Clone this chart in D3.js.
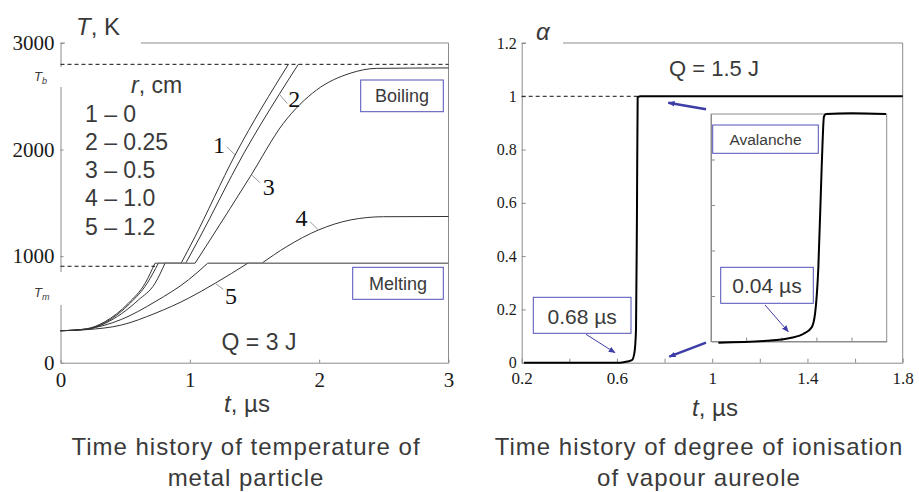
<!DOCTYPE html>
<html>
<head>
<meta charset="utf-8">
<script src="https://cdn.jsdelivr.net/npm/d3@7"></script>
<style>
  body { margin: 0; background: #fff; }
  svg { display: block; }
</style>
</head>
<body>
<div id="chart"></div>
<script>
// Left panel: temperature of the metal particle, t in µs, T in K
const T_X_TICKS = [0, 1, 2, 3];
const T_Y_TICKS = [0, 1000, 2000, 3000];
const T_BOIL = 2800;      // dashed T_b level
const T_MELT_LINE = 905;  // dashed T_m level
// each curve: pieces joined by straight plateaus
const CURVE_1 = [
  [[0, 300], [0.2, 318], [0.344, 385], [0.524, 557], [0.654, 745], [0.73, 933]],
  [[0.932, 933], [1.027, 1151], [1.35, 1949], [1.762, 2800]]
];
const CURVE_2 = [
  [[0, 300], [0.2, 315], [0.35, 380], [0.54, 560], [0.67, 745], [0.756, 933]],
  [[0.968, 933], [1.066, 1151], [1.41, 1949], [1.692, 2520], [1.839, 2800]]
];
const CURVE_3 = [
  [[0, 300], [0.2, 312], [0.344, 369], [0.602, 588], [0.731, 745], [0.808, 933]],
  [[1.04, 933], [1.156, 1151], [1.466, 1745], [1.723, 2246], [1.98, 2559], [2.24, 2716], [2.445, 2762], [3, 2766]]
];
const CURVE_4 = [
  [[0, 300], [0.2, 316], [0.473, 407], [0.731, 572], [0.988, 776], [1.138, 933]],
  [[1.556, 933], [1.75, 1090], [1.994, 1245], [2.24, 1339], [2.497, 1370], [3, 1372]]
];
const CURVE_5 = [
  [[0, 300], [0.2, 310], [0.473, 354], [0.731, 463], [0.988, 604], [1.195, 745], [1.448, 933]],
  [[3, 933]]
];
const T_CURVES = [CURVE_1, CURVE_2, CURVE_3, CURVE_4, CURVE_5];
const LEGEND_ROWS = ["1 – 0", "2 – 0.25", "3 – 0.5", "4 – 1.0", "5 – 1.2"];
// curve number labels: [label, leader start on curve (t, T)]
const CURVE_TAGS = [
  ["1", [1.35, 1949]],
  ["2", [1.692, 2520]],
  ["3", [1.479, 1761]],
  ["4", [1.994, 1245]],
  ["5", [1.195, 745]]
];

// Right panel: degree of ionisation alpha
const A_X_TICKS = [0.2, 0.4, 0.6, 0.8, 1.0, 1.2, 1.4, 1.6, 1.8];
const A_X_LABELS = [0.2, 0.6, 1.0, 1.4, 1.8];
const A_Y_TICKS = [0, 0.2, 0.4, 0.6, 0.8, 1.0, 1.2];
const ALPHA = [[0.21, 0], [0.6, 0], [0.628, 0.002], [0.663, 0.01], [0.673, 0.035], [0.68, 0.123],
  [0.684, 0.56], [0.687, 0.997], [0.70, 1.0], [1.8, 1.0]];
const INSET_X_TICKS = [0.64, 0.66, 0.68, 0.70];
const INSET_Y_TICKS = [0.2, 0.4, 0.6, 0.8];
const ALPHA_ZOOM = [[0.6242, -0.005], [0.6517, 0.003], [0.665, 0.015], [0.6725, 0.033], [0.6773, 0.062],
  [0.6792, 0.121], [0.6811, 0.326], [0.683, 0.768], [0.6843, 0.989], [0.6855, 1.0], [0.70, 1.003], [0.7196, 1.0]];

const GRAY = "#8c8c8c", INK = "#3a3a3a", BLUE = "#3d3da8", BOXBLUE = "#5050b8";
const SANS = "Liberation Sans, Arial, sans-serif";
const SERIF = "Liberation Serif, Tinos, Times New Roman, DejaVu Serif, serif";

const svg = d3.select("#chart").append("svg").attr("width", 919).attr("height", 492);

svg.append("defs").append("marker")
  .attr("id", "head").attr("viewBox", "0 0 10 10").attr("refX", 9).attr("refY", 5)
  .attr("markerWidth", 7).attr("markerHeight", 7).attr("orient", "auto-start-reverse")
  .attr("markerUnits", "userSpaceOnUse")
  .append("path").attr("d", "M0,1 L10,5 L0,9 z").attr("fill", BLUE);

function styleAxis(ax, size) {
  ax.attr("font-family", null).attr("font-size", null);
  ax.select(".domain").attr("stroke", GRAY);
  ax.selectAll(".tick line").attr("stroke", GRAY);
  ax.selectAll("text").style("font-family", SERIF).style("font-size", size + "px").attr("fill", "#1a1a1a");
}

function labelBox(x, y, w, h, text, size, baseline) {
  svg.append("rect").attr("x", x).attr("y", y).attr("width", w).attr("height", h)
    .attr("fill", "#fff").attr("stroke", BOXBLUE).attr("stroke-width", 1);
  svg.append("text").attr("x", x + w / 2).attr("y", baseline).attr("text-anchor", "middle")
    .attr("font-family", SANS).attr("font-size", size).attr("fill", INK).text(text);
}

/* ── Left panel ── */
const xL = d3.scaleLinear().domain([0, 3]).range([60.5, 448.5]);
const yL = d3.scaleLinear().domain([0, 3000]).range([362.7, 43]);

svg.append("path").attr("fill", "none").attr("stroke", GRAY)
  .attr("d", `M${xL(0)},${yL(3000)}H${xL(3)}V${yL(0)}`);
svg.append("g").attr("transform", `translate(0,${yL(0)})`)
  .call(d3.axisBottom(xL).tickValues(T_X_TICKS).tickSizeInner(-3).tickSizeOuter(0).tickPadding(9).tickFormat(d3.format("d")))
  .call(ax => styleAxis(ax, 21));
svg.append("g").attr("transform", `translate(${xL(0)},0)`)
  .call(d3.axisLeft(yL).tickValues(T_Y_TICKS).tickSizeInner(-3).tickSizeOuter(0).tickPadding(6).tickFormat(d3.format("d")))
  .call(ax => styleAxis(ax, 21));

// white patches behind axis names and T_b / T_m
svg.append("rect").attr("x", 65).attr("y", 14).attr("width", 76).attr("height", 33).attr("fill", "#fff");
svg.append("rect").attr("x", 20).attr("y", 67).attr("width", 42).attr("height", 20).attr("fill", "#fff");
svg.append("rect").attr("x", 20).attr("y", 272).attr("width", 42).attr("height", 33).attr("fill", "#fff");

const line = d3.line().x(d => xL(d[0])).y(d => yL(d[1])).curve(d3.curveMonotoneX);
T_CURVES.forEach(pieces => {
  pieces.forEach((pts, i) => {
    if (pts.length > 1) {
      svg.append("path").attr("d", line(pts)).attr("fill", "none").attr("stroke", "#333").attr("stroke-width", 1);
    }
    if (i > 0) {
      const a = pieces[i - 1][pieces[i - 1].length - 1], b = pts[0];
      svg.append("line").attr("x1", xL(a[0])).attr("y1", yL(a[1])).attr("x2", xL(b[0])).attr("y2", yL(b[1]))
        .attr("stroke", "#7a7a7a").attr("stroke-width", 1.4);
    }
  });
});

svg.append("line").attr("x1", xL(0)).attr("x2", xL(3)).attr("y1", yL(T_BOIL)).attr("y2", yL(T_BOIL))
  .attr("stroke", "#111").attr("stroke-dasharray", "4 3");
svg.append("line").attr("x1", xL(0)).attr("x2", xL(CURVE_1[0][CURVE_1[0].length - 1][0]))
  .attr("y1", yL(T_MELT_LINE)).attr("y2", yL(T_MELT_LINE))
  .attr("stroke", "#111").attr("stroke-dasharray", "4 3");

// axis names
svg.append("text").attr("x", 76).attr("y", 35).attr("font-family", SANS).attr("font-size", 24).attr("fill", INK)
  .call(t => { t.append("tspan").attr("font-style", "italic").text("T"); t.append("tspan").text(", K"); });
svg.append("text").attr("x", 247).attr("y", 412).attr("text-anchor", "middle").attr("font-family", SANS)
  .attr("font-size", 24).attr("fill", INK)
  .call(t => { t.append("tspan").attr("font-style", "italic").text("t"); t.append("tspan").text(", µs"); });
svg.append("text").attr("x", 34).attr("y", 81).attr("font-family", SANS).attr("font-size", 13).attr("font-style", "italic").attr("fill", INK)
  .call(t => { t.append("tspan").text("T"); t.append("tspan").attr("font-size", 9).attr("dy", 3).text("b"); });
svg.append("text").attr("x", 34).attr("y", 297).attr("font-family", SANS).attr("font-size", 13).attr("font-style", "italic").attr("fill", INK)
  .call(t => { t.append("tspan").text("T"); t.append("tspan").attr("font-size", 9).attr("dy", 3).text("m"); });

// legend
svg.append("text").attr("x", 131).attr("y", 93).attr("font-family", SANS).attr("font-size", 23).attr("fill", INK)
  .call(t => { t.append("tspan").attr("font-style", "italic").text("r"); t.append("tspan").text(", cm"); });
svg.selectAll(".leg").data(LEGEND_ROWS).join("text").attr("class", "leg")
  .attr("x", 85).attr("y", (d, i) => 121.5 + i * 28.3)
  .attr("font-family", SANS).attr("font-size", 23).attr("fill", INK).text(d => d);

// curve numbers with leaders
const TAG_OFFSET = { "1": [-8.3, -8.3, -22, -2], "2": [8, 9.4, 9, 13], "3": [8.3, 7.7, 11, 20], "4": [-8.3, -8.3, -23, -4], "5": [8.3, 6, 10, 21] };
CURVE_TAGS.forEach(([lab, p]) => {
  const [dx, dy, tx, ty] = TAG_OFFSET[lab];
  const x0 = xL(p[0]), y0 = yL(p[1]);
  svg.append("line").attr("x1", x0).attr("y1", y0).attr("x2", x0 + dx).attr("y2", y0 + dy)
    .attr("stroke", "#9a9a9a").attr("stroke-width", 1);
  svg.append("text").attr("x", x0 + tx).attr("y", y0 + ty).style("font-family", SERIF).style("font-size", "24px")
    .attr("fill", "#111").text(lab);
});

labelBox(360.7, 80, 82.6, 31.7, "Boiling", 18, 102);
labelBox(352.7, 267.3, 90.6, 32, "Melting", 18, 289.5);
svg.append("text").attr("x", 259).attr("y", 350).attr("text-anchor", "middle").attr("font-family", SANS)
  .attr("font-size", 23).attr("fill", INK).text("Q = 3 J");

/* ── Right panel ── */
const xR = d3.scaleLinear().domain([0.2, 1.8]).range([521.7, 902.7]);
const yR = d3.scaleLinear().domain([0, 1.2]).range([362.7, 43]);
const fmt = d => String(+d.toFixed(1));

svg.append("path").attr("fill", "none").attr("stroke", GRAY)
  .attr("d", `M${xR(0.2)},${yR(1.2)}H${xR(1.8)}V${yR(0)}`);
svg.append("g").attr("transform", `translate(0,${yR(0)})`)
  .call(d3.axisBottom(xR).tickValues(A_X_TICKS).tickSizeInner(-4).tickSizeOuter(0).tickPadding(9)
    .tickFormat(d => A_X_LABELS.some(v => Math.abs(v - d) < 1e-9) ? fmt(d) : ""))
  .call(ax => styleAxis(ax, 17));
svg.append("g").attr("transform", `translate(${xR(0.2)},0)`)
  .call(d3.axisLeft(yR).tickValues(A_Y_TICKS).tickSizeInner(-4).tickSizeOuter(0).tickPadding(5).tickFormat(fmt))
  .call(ax => styleAxis(ax, 16));

svg.append("rect").attr("x", 526).attr("y", 14).attr("width", 37).attr("height", 33).attr("fill", "#fff");
svg.append("text").attr("x", 536).attr("y", 40).attr("font-family", SANS).attr("font-size", 24)
  .attr("font-style", "italic").attr("fill", INK).text("α");
svg.append("text").attr("x", 715).attr("y", 416).attr("text-anchor", "middle").attr("font-family", SANS)
  .attr("font-size", 24).attr("fill", INK)
  .call(t => { t.append("tspan").attr("font-style", "italic").text("t"); t.append("tspan").text(", µs"); });

const lineR = d3.line().x(d => xR(d[0])).y(d => yR(d[1])).curve(d3.curveMonotoneX);
svg.append("line").attr("x1", xR(0.2)).attr("x2", xR(0.687)).attr("y1", yR(1)).attr("y2", yR(1))
  .attr("stroke", "#111").attr("stroke-dasharray", "4 3");
svg.append("path").attr("d", lineR(ALPHA)).attr("fill", "none").attr("stroke", "#000").attr("stroke-width", 2);

svg.append("text").attr("x", 714).attr("y", 76).attr("text-anchor", "middle").attr("font-family", SANS)
  .attr("font-size", 22).attr("fill", INK).text("Q = 1.5 J");

// inset: zoom of the avalanche
const xI = d3.scaleLinear().domain([0.62, 0.72]).range([711, 886.7]);
const yI = d3.scaleLinear().domain([0, 1]).range([341.5, 114]);
svg.append("rect").attr("x", 711).attr("y", 114).attr("width", 175.7).attr("height", 227.5)
  .attr("fill", "#fff").attr("stroke", GRAY);
svg.append("g").attr("transform", `translate(0,${yI(0)})`)
  .call(d3.axisBottom(xI).tickValues(INSET_X_TICKS).tickSizeInner(-4).tickSizeOuter(0).tickFormat(""))
  .call(ax => styleAxis(ax, 10));
svg.append("g").attr("transform", `translate(${xI(0.62)},0)`)
  .call(d3.axisLeft(yI).tickValues(INSET_Y_TICKS).tickSizeInner(-4).tickSizeOuter(0).tickFormat(""))
  .call(ax => styleAxis(ax, 10));
svg.append("path").attr("d", d3.line().x(d => xI(d[0])).y(d => yI(d[1])).curve(d3.curveMonotoneX)(ALPHA_ZOOM))
  .attr("fill", "none").attr("stroke", "#000").attr("stroke-width", 2);

labelBox(712.7, 125, 105.6, 28.3, "Avalanche", 15.5, 145);
labelBox(720.7, 267.3, 92.6, 36, "0.04 µs", 21, 292.7);
labelBox(533.3, 297.3, 97.7, 36, "0.68 µs", 21, 324);

// pointers
const arrow = (x1, y1, x2, y2, w) => svg.append("line").attr("x1", x1).attr("y1", y1).attr("x2", x2).attr("y2", y2)
  .attr("stroke", BLUE).attr("stroke-width", w).attr("marker-end", "url(#head)");
arrow(586, 334.3, 615, 352.7, 1);
arrow(765, 305, 788.3, 331.7, 1);
arrow(706, 109.3, 668.3, 102.7, 2.5);
arrow(706, 342.7, 669.3, 356.7, 2.5);

/* ── Captions ── */
const caption = (x, lines) => lines.forEach((s, i) =>
  svg.append("text").attr("x", x).attr("y", 455 + i * 30.5).attr("text-anchor", "middle")
    .attr("font-family", SANS).attr("font-size", 24).attr("letter-spacing", 1).attr("fill", INK).text(s));
caption(246, ["Time history of temperature of", "metal particle"]);
caption(699, ["Time history of degree of ionisation", "of vapour aureole"]);
</script>
</body>
</html>
